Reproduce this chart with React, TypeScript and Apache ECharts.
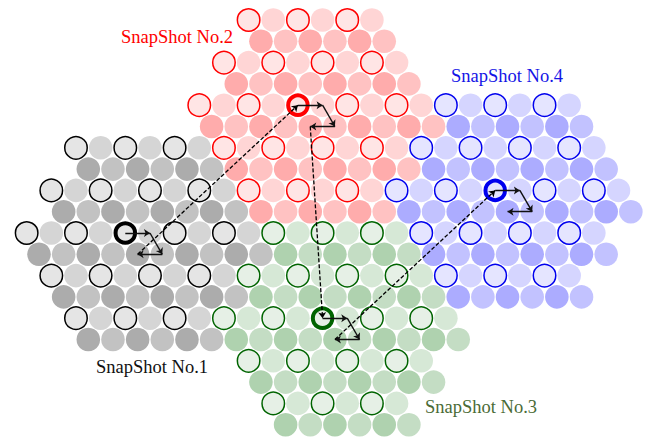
import React, { useEffect, useRef } from "react";
import * as echarts from "echarts";

// Each snapshot: rows of the hexagonal lattice, [row, first column, last column]
// (columns in doubled-offset units: neighbours in a row are 2 apart)
const grayRows = [[6, -14, -4], [7, -13, -3], [8, -16, -2], [9, -15, -1], [10, -18, 0], [11, -17, 1], [12, -16, -2], [13, -15, -1], [14, -14, -4], [15, -13, -3]];
const redRows = [[0, 0, 10], [1, 1, 11], [2, -2, 12], [3, -1, 13], [4, -4, 14], [5, -3, 15], [6, -2, 12], [7, -1, 13], [8, 0, 10], [9, 1, 11]];
const blueRows = [[4, 16, 26], [5, 17, 27], [6, 14, 28], [7, 15, 29], [8, 12, 30], [9, 13, 31], [10, 14, 28], [11, 15, 29], [12, 16, 26], [13, 17, 27]];
const greenRows = [[10, 2, 12], [11, 3, 13], [12, 0, 14], [13, 1, 15], [14, -2, 16], [15, -1, 17], [16, 0, 14], [17, 1, 15], [18, 2, 12], [19, 3, 13]];

// snapshot centres [column, row]
const grayCenter = [-10, 10];
const redCenter = [4, 4];
const greenCenter = [6, 14];
const blueCenter = [20, 8];

// scan steps inside one snapshot (column delta, row delta)
const scanSteps = [[2, 0], [1, 1], [-2, 0]];

const labels = ["SnapShot No.1", "SnapShot No.2", "SnapShot No.3", "SnapShot No.4"];

const palettes = {
  gray: { stroke: "#000000", dark: "#acacac", mid: "#c2c2c2", light: "#d5d5d5", fill: "#e5e5e5" },
  red: { stroke: "#ff0000", dark: "#ffacac", mid: "#ffc2c2", light: "#ffd5d5", fill: "#ffe5e5" },
  blue: { stroke: "#0000ee", dark: "#acacff", mid: "#c2c2ff", light: "#d5d5ff", fill: "#e5e5ff" },
  green: { stroke: "#006400", dark: "#afd2af", mid: "#c4ddc4", light: "#d6e8d6", fill: "#e6f0e6" },
};

function clusterData(rows: number[][], center: number[], pal: any) {
  const out: any[] = [];
  for (const [r, a, b] of rows) {
    for (let X = a; X <= b; X += 2) {
      const m = (((X - r) % 4) + 4) % 4;
      const even = r % 2 === 0;
      const isCenter = X === center[0] && r === center[1];
      if (isCenter) {
        out.push({ value: [X, r], symbolSize: 19.5, itemStyle: { color: pal.fill, borderColor: pal.stroke, borderWidth: 4, opacity: 1 } });
      } else if (even && m === 0) {
        out.push({ value: [X, r], symbolSize: 22.5, itemStyle: { color: pal.fill, borderColor: pal.stroke, borderWidth: 1.5, opacity: 1 } });
      } else {
        const c = even ? pal.light : m === 0 ? pal.dark : pal.mid;
        out.push({ value: [X, r], symbolSize: 23.6, itemStyle: { color: c, borderWidth: 0, opacity: 1 } });
      }
    }
  }
  return out;
}

function scanPath(center: number[]) {
  const segs: any[] = [];
  let p = [center[0], center[1]];
  for (const [dx, dr] of scanSteps) {
    const q = [p[0] + dx, p[1] + dr];
    segs.push({ coords: [p, q] });
    p = q;
  }
  return { segs, end: p };
}

export default function App() {
  const ref = useRef<HTMLDivElement>(null);
  useEffect(() => {
    if (!ref.current) return;
    const chart = echarts.init(ref.current, null, { renderer: "svg" });
    const order = [grayCenter, redCenter, greenCenter, blueCenter];
    const paths = order.map(scanPath);
    const solid: any[] = [];
    paths.forEach((p) => solid.push(...p.segs));
    const dashed: any[] = [];
    for (let i = 0; i < order.length - 1; i++) {
      dashed.push({ coords: [paths[i].end, order[i + 1]] });
    }
    const mk = (name: string, rows: number[][], c: number[], pal: any) => ({
      type: "scatter",
      name,
      symbol: "circle",
      clip: false,
      silent: true,
      itemStyle: { opacity: 1 },
      data: clusterData(rows, c, pal),
      z: 2,
    });
    const font = '18.5px "Liberation Serif"';
    chart.setOption({
      animation: false,
      backgroundColor: "#ffffff",
      grid: { left: 2, top: 20, width: 653.5, height: 404.7 },
      xAxis: { type: "value", min: -20, max: 33, show: false },
      yAxis: { type: "value", min: 0, max: 19, inverse: true, show: false },
      series: [
        mk("gray", grayRows, grayCenter, palettes.gray),
        mk("red", redRows, redCenter, palettes.red),
        mk("blue", blueRows, blueCenter, palettes.blue),
        mk("green", greenRows, greenCenter, palettes.green),
        {
          type: "lines",
          coordinateSystem: "cartesian2d",
          silent: true,
          z: 5,
          symbol: ["none", "arrow"],
          symbolSize: 6,
          lineStyle: { color: "#111", width: 1.4, opacity: 1 },
          data: solid,
        },
        {
          type: "lines",
          coordinateSystem: "cartesian2d",
          silent: true,
          z: 5,
          symbol: ["none", "arrow"],
          symbolSize: 6,
          lineStyle: { color: "#000", width: 1.3, type: [4, 2], opacity: 1 },
          data: dashed,
        },
      ],
      graphic: [
        { type: "text", x: 152, y: 367, style: { text: labels[0], fill: "#111111", font, align: "center", verticalAlign: "middle" } },
        { type: "text", x: 177, y: 37, style: { text: labels[1], fill: "#ff0000", font, align: "center", verticalAlign: "middle" } },
        { type: "text", x: 481, y: 407, style: { text: labels[2], fill: "#4a6b36", font, align: "center", verticalAlign: "middle" } },
        { type: "text", x: 507, y: 76, style: { text: labels[3], fill: "#1414e6", font, align: "center", verticalAlign: "middle" } },
      ],
    });
    return () => chart.dispose();
  }, []);
  return (
    <div style={{ position: "fixed", left: 0, top: 0, width: 657, height: 440, background: "#fff" }}>
      <div ref={ref} style={{ width: 657, height: 440 }} />
    </div>
  );
}
